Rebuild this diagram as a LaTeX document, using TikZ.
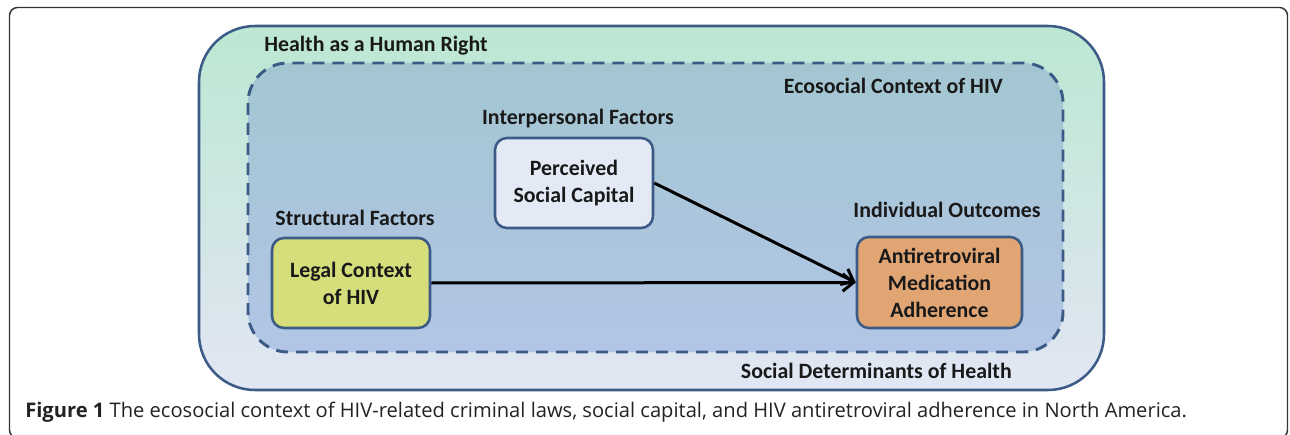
\documentclass[tikz,border=0pt]{standalone}
\usepackage{fontspec}
\setmainfont{Carlito}
\newfontfamily\capfont{Open Sans}
\usetikzlibrary{arrows.meta}
\definecolor{bord}{HTML}{3B5A86}
\definecolor{outtop}{HTML}{BCE7D2}
\definecolor{outmid}{HTML}{C3D2EC}
\definecolor{outbot}{HTML}{E2E6F4}
\definecolor{intop}{HTML}{A3C6D1}
\definecolor{inmid}{HTML}{A8BDE0}
\definecolor{inbot}{HTML}{B2C5E6}
\definecolor{pscfill}{HTML}{E3EAF6}
\definecolor{legfill}{HTML}{D5DE7B}
\definecolor{artfill}{HTML}{E1A574}
\definecolor{captext}{HTML}{222222}
\tikzset{
  lbl/.style={font=\fontsize{16.4}{20}\selectfont\bfseries, text=black!90, inner sep=0pt},
  factorbox/.style={draw=bord, line width=1.9pt, rounded corners=9pt, align=center,
    font=\fontsize{16.4}{20.25}\selectfont\bfseries, text=black!90, inner sep=0pt},
  link/.style={line width=2.25pt, black, -{Straight Barb[length=8pt,width=13pt]}},
}
\begin{document}
\begin{tikzpicture}[x=0.75pt,y=-0.75pt]
\useasboundingbox (0,0) rectangle (1290,435);
% outer frame
\draw[line width=1.1pt, black!80, rounded corners=6pt] (9.5,7.5) rectangle (1287.5,438);
% outer context box
\draw[bord, line width=1.9pt, rounded corners=42pt, top color=outtop, middle color=outmid, bottom color=outbot]
  (199,26) rectangle (1104,390);
% dashed ecosocial box
\draw[bord, line width=2.2pt, dash pattern=on 9pt off 6pt, rounded corners=30pt, top color=intop, middle color=inmid, bottom color=inbot]
  (248,63) rectangle (1063,352);
% labels
\node[lbl, anchor=west] (hhr) at (264,46) {Health as a Human Right};
\node[lbl, anchor=east] (eco) at (1003,86) {Ecosocial Context of HIV};
\node[lbl] (ipf) at (578,119) {Interpersonal Factors};
\node[lbl] (stf) at (355,218) {Structural Factors};
\node[lbl] (ido) at (947,210) {Individual Outcomes};
\node[lbl, anchor=east] (sdh) at (1012,371) {Social Determinants of Health};
% boxes
\node[factorbox, fill=pscfill, minimum width=118.5pt, minimum height=67.5pt] (psc) at (574,183) {Perceived\\Social Capital};
\node[factorbox, fill=legfill, minimum width=118.5pt, minimum height=67.5pt] (leg) at (351,283) {Legal Context\\of HIV};
\node[factorbox, fill=artfill, minimum width=123.75pt, minimum height=68.25pt] (art) at (939.5,282.5) {Antiretroviral\\Medication\\Adherence};
% connectors
\draw[link] (leg.east) -- (art.west);
\draw[link] (psc.east) -- (art.west);
% caption
\node[anchor=west, inner sep=0pt, text=captext, font=\capfont\fontsize{15.1}{18}\selectfont] (cap) at (25,412)
  {\textbf{Figure 1} The ecosocial context of HIV-related criminal laws, social capital, and HIV antiretroviral adherence in North America.};
\end{tikzpicture}
\end{document}
